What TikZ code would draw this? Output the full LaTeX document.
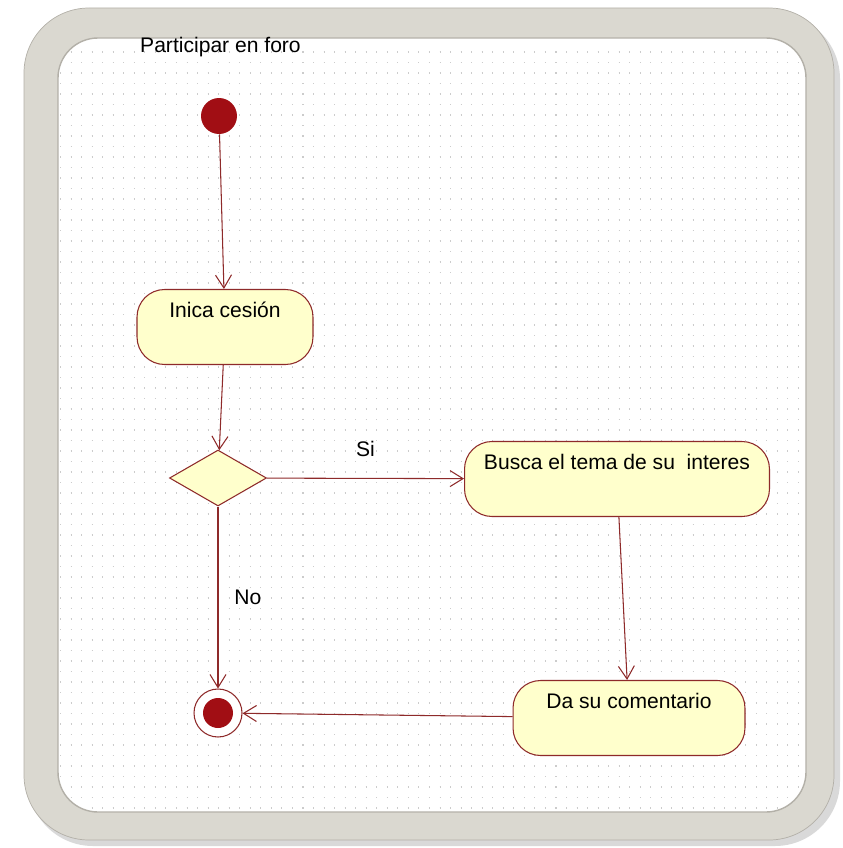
\documentclass[tikz,border=0pt]{standalone}
\usepackage{fontspec}
\setmainfont{Liberation Sans}
\usetikzlibrary{shapes.geometric,arrows.meta}
\definecolor{linea}{HTML}{8E2A2A}
\definecolor{relleno}{HTML}{FFFFCC}
\definecolor{punto}{HTML}{A10E14}
\definecolor{marco}{HTML}{DAD8D0}
\definecolor{borde}{HTML}{B3B0A8}
\begin{document}
\begin{tikzpicture}[
	x=0.02cm, y=-0.02cm,
	every node/.style={font=\fontsize{12}{14}\selectfont},
	actividad/.style={draw=linea, fill=relleno, line width=0.6pt, rounded corners=0.55cm, inner xsep=0pt, inner ysep=0pt, text height=0.56cm, text depth=0.94cm},
	decision/.style={diamond, draw=linea, fill=relleno, line width=0.6pt, minimum width=1.94cm, minimum height=1.12cm, inner sep=0pt},
	inicio/.style={circle, fill=punto, minimum size=0.72cm, inner sep=0pt},
	final/.style={circle, draw=linea, fill=white, line width=0.6pt, minimum size=0.96cm, inner sep=0pt},
	flecha/.style={draw=linea, line width=0.6pt, -{Straight Barb[length=2.6mm,width=3.2mm]}}
	]
	\useasboundingbox (0,0) rectangle (842,848);
	% marco
	\fill[black!15, rounded corners=1.3cm] (28,14) rectangle (840,846);
	\filldraw[fill=marco, draw=borde, rounded corners=1.3cm] (24,8) rectangle (834,840);
	\filldraw[fill=white, draw=borde, line width=0.8pt, rounded corners=0.8cm] (58,38) rectangle (806,812);
	% puntos de la rejilla
	\begin{scope}
	\clip[rounded corners=0.8cm] (59,39) rectangle (805,811);
	\foreach \yy in {52,62.5,...,812}
		\draw[black!20, line width=0.6pt, dash pattern=on 0.6pt off 5.4pt] (60,\yy) -- (806,\yy);
	\end{scope}
	
	\node[anchor=west] (titulo) at (134,47) {Participar en foro};
	
	\node[inicio] (ini) at (219,116) {};
	\node[actividad, minimum width=3.52cm] (sesion) at (225,327) {Inica cesión};
	\node[decision] (dec) at (218,478) {};
	\node[actividad, minimum width=6.1cm] (busca) at (617,479) {Busca el tema de su\ \ interes};
	\node[actividad, minimum width=4.64cm] (coment) at (629,718) {Da su comentario};
	\node[final] (fin) at (218,713) {};
	\fill[punto] (fin.center) circle (0.3cm);
	
	\draw[flecha] (ini) -- (sesion);
	\draw[flecha] (sesion) -- (dec);
	\draw[flecha] (dec) -- node[above=0.3cm] {Si} (busca);
	\draw[flecha] (busca) -- (coment);
	\draw[flecha] (coment) -- (fin);
	\draw[flecha] (dec) -- node[right=0.2cm] {No} (fin);
\end{tikzpicture}
\end{document}
